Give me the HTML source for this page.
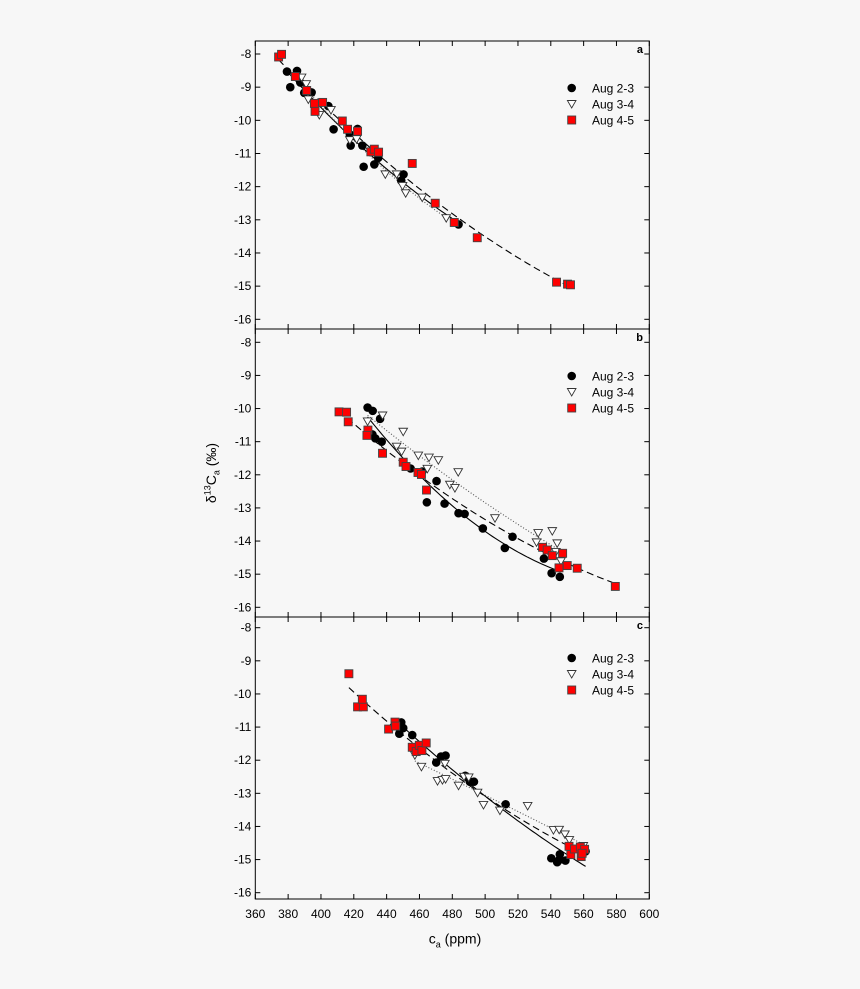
<!DOCTYPE html>
<html><head><meta charset="utf-8"><style>
html,body{margin:0;padding:0;background:#f7f7f7;}
svg{display:block;font-family:"Liberation Sans",Arial,sans-serif;}
</style></head><body>
<svg id="chart" width="860" height="989" viewBox="0 0 860 989" xmlns="http://www.w3.org/2000/svg"></svg>
<script>
const xTicks=[360,380,400,420,440,460,480,500,520,540,560,580,600];
const yTicks=[-8,-9,-10,-11,-12,-13,-14,-15,-16];
const seriesNames=["Aug 2-3","Aug 3-4","Aug 4-5"];
const panelLetters=["a","b","c"];
// Panel a
const a1x=[379.3,381.3,385.4,387.4,389.8,394.3,404.5,407.7,417.6,418.1,422.3,425.2,426,432.5,434.9,448.9,450.3,483.8];
const a1y=[-8.53,-9.0,-8.51,-8.86,-9.17,-9.16,-9.57,-10.27,-10.44,-10.76,-10.26,-10.76,-11.4,-11.33,-11.13,-11.82,-11.63,-13.14];
const a2x=[388.2,391,392.3,399,406.1,417.6,421.7,430.2,439.2,446.1,449.7,451.6,461.7,476.3];
const a2y=[-8.71,-8.91,-9.37,-9.84,-9.69,-10.6,-10.57,-10.95,-11.63,-11.63,-11.98,-12.2,-12.33,-12.95];
const a3x=[374.2,376,384.4,391.3,396,396.4,401,413,416.2,422.3,430.4,432.5,435.1,455.6,469.6,481.2,495.2,543.5,550.2,552];
const a3y=[-8.09,-8.01,-8.68,-9.1,-9.49,-9.73,-9.46,-10.02,-10.27,-10.33,-10.95,-10.87,-10.96,-11.3,-12.5,-13.08,-13.54,-14.88,-14.94,-14.96];
// Panel b
const b1x=[428.4,431.5,436,431.3,433.1,437,454.6,461.7,470.4,464.5,475.3,483.8,487.5,498.6,512,516.7,535.8,540.5,545.5];
const b1y=[-9.97,-10.07,-10.31,-10.78,-10.9,-11.0,-11.81,-11.9,-12.19,-12.83,-12.87,-13.16,-13.18,-13.62,-14.21,-13.87,-14.53,-14.97,-15.08];
const b2x=[428.4,437.5,450.1,446.1,449.1,459.3,465.8,471.5,464.8,483.6,478.5,481.6,506,532.3,531.3,540.9,543.9,543.1,546.2];
const b2y=[-10.39,-10.21,-10.7,-11.15,-11.3,-11.42,-11.48,-11.56,-11.82,-11.92,-12.3,-12.4,-13.31,-13.76,-14.04,-13.7,-14.07,-14.33,-14.61];
const b3x=[411,415.6,416.6,428.6,428,437.5,450.1,451.8,459.1,461.2,464.3,535,537.8,540.9,547.2,545,550,556.1,579.3];
const b3y=[-10.1,-10.11,-10.4,-10.65,-10.81,-11.35,-11.62,-11.75,-11.93,-11.99,-12.46,-14.19,-14.27,-14.44,-14.37,-14.81,-14.74,-14.82,-15.37];
// Panel c
const c1x=[448.9,450.1,447.7,455.6,470.2,473.1,475.9,487.9,490.7,493.2,512.5,540.3,543.9,545.5,545.1,548.9,561.2,558.9];
const c1y=[-10.86,-11.03,-11.2,-11.24,-12.07,-11.89,-11.86,-12.47,-12.65,-12.65,-13.33,-14.96,-15.08,-14.84,-15.01,-15.03,-14.75,-14.63];
const c2x=[457.2,461.2,471,474,475.9,475.5,483.8,487.1,490,495.4,499,509,525.9,541.6,545.1,548.6,551.3,559.8];
const c2y=[-11.85,-12.2,-12.63,-12.6,-12.57,-12.11,-12.77,-12.5,-12.52,-12.98,-13.35,-13.52,-13.38,-14.11,-14.1,-14.24,-14.41,-14.59];
const c3x=[417,422.3,425.8,425.2,441.2,445.1,445.5,455.6,458,459.9,461.5,464.1,551.1,552.2,554.4,558,558.5,560.6,559.1];
const c3y=[-9.39,-10.39,-10.39,-10.16,-11.06,-10.85,-10.97,-11.61,-11.74,-11.55,-11.71,-11.48,-14.6,-14.85,-14.68,-14.62,-14.91,-14.69,-14.81];

const panels=[
 {top:41,bottom:329,y8:54,y16:319.3,s:[[a1x,a1y],[a2x,a2y],[a3x,a3y]],leg:88},
 {top:329,bottom:617,y8:342.3,y16:607.3,s:[[b1x,b1y],[b2x,b2y],[b3x,b3y]],leg:376},
 {top:617,bottom:899,y8:627.7,y16:892.7,s:[[c1x,c1y],[c2x,c2y],[c3x,c3y]],leg:658}
];
const L=255.3,R=649.3;
const xs=v=>L+(v-360)*(R-L)/240;
const NS="http://www.w3.org/2000/svg";
const svg=document.getElementById('chart');
function mk(tag,attrs,parent){const e=document.createElementNS(NS,tag);for(const k in attrs)e.setAttribute(k,attrs[k]);(parent||svg).appendChild(e);return e;}
function fit(x,y){ // quadratic least squares
 let S=[0,0,0,0,0],T=[0,0,0];
 for(let i=0;i<x.length;i++){const u=x[i]-450;let p=1;for(let k=0;k<5;k++){S[k]+=p;if(k<3)T[k]+=p*y[i];p*=u;}}
 const A=[[S[0],S[1],S[2],T[0]],[S[1],S[2],S[3],T[1]],[S[2],S[3],S[4],T[2]]];
 for(let i=0;i<3;i++){for(let j=i+1;j<3;j++){const f=A[j][i]/A[i][i];for(let k=i;k<4;k++)A[j][k]-=f*A[i][k];}}
 const c=[0,0,0];for(let i=2;i>=0;i--){let s=A[i][3];for(let k=i+1;k<3;k++)s-=A[i][k]*c[k];c[i]=s/A[i][i];}
 return u=>c[0]+c[1]*(u-450)+c[2]*(u-450)*(u-450);
}
const dashes=["none","1,2","7,4"];
function marker(i,x,y,g){
 let e;
 if(i===0){e=mk('circle',{cx:x,cy:y,r:4.3,fill:'#000'},g);}
 else if(i===1){e=mk('path',{d:`M${x-4.3},${y-3.5}L${x+4.3},${y-3.5}L${x},${y+4}Z`,fill:'#fff',stroke:'#333','stroke-width':0.9},g);}
 else{e=mk('rect',{x:x-4,y:y-4,width:8,height:8,fill:'#f00',stroke:'#444','stroke-width':0.9},g);}
 
}
panels.forEach((p,pi)=>{
 const ys=v=>p.y8+(-8-v)*(p.y16-p.y8)/8;
 const g=mk('g',{});
 
 
 const fr=mk('rect',{x:L,y:p.top,width:R-L,height:p.bottom-p.top,fill:'none',stroke:'#000','stroke-width':1},g);
 
 xTicks.forEach(t=>{const x=xs(t);
  mk('line',{x1:x,x2:x,y1:p.top,y2:p.top+5,stroke:'#000','stroke-width':1},g);
  mk('line',{x1:x,x2:x,y1:p.bottom,y2:p.bottom-5,stroke:'#000','stroke-width':1},g);
  if(pi===2){const tl=mk('text',{x:x,y:918,'font-size':12,'text-anchor':'middle',fill:'#000'},g);tl.textContent=t;
   }
 });
 yTicks.forEach(t=>{const y=ys(t);
  mk('line',{x1:L,x2:L+5,y1:y,y2:y,stroke:'#000','stroke-width':1},g);
  mk('line',{x1:R,x2:R-5,y1:y,y2:y,stroke:'#000','stroke-width':1},g);
  const tl=mk('text',{x:L-4,y:y+4,'font-size':12,'text-anchor':'end',fill:'#000'},g);tl.textContent=t;
  
 });
 p.s.forEach((sr,si)=>{
  const f=fit(sr[0],sr[1]);const mn=Math.min(...sr[0]),mx=Math.max(...sr[0]);
  let d='';for(let k=0;k<=60;k++){const u=mn+(mx-mn)*k/60;d+=(k?'L':'M')+xs(u).toFixed(1)+','+ys(f(u)).toFixed(1);}
  const ln=mk('path',{d:d,fill:'none',stroke:si===1?'#555':'#000','stroke-width':1.1,'stroke-dasharray':dashes[si]},g);
  
  
 });
 p.s.forEach((sr,si)=>{sr[0].forEach((v,k)=>marker(si,xs(v),ys(sr[1][k]),g));});
 seriesNames.forEach((n,si)=>{
  const ly=p.leg+si*16;
  marker(si,571.7,ly,g);
  const t=mk('text',{x:592,y:ly+4.5,'font-size':12,fill:'#000'},g);t.textContent=n;
  
 });
 const lt=mk('text',{x:643,y:p.top+12,'font-size':11,'font-weight':'bold','text-anchor':'end',fill:'#000'},g);lt.textContent=panelLetters[pi];
 
});
</script>
<svg width="0" height="0" style="position:absolute"></svg>
<div style="position:absolute;left:0;top:0;width:860px;height:989px;pointer-events:none">
 <div style="position:absolute;left:212px;top:473px;transform:translate(-50%,-50%) rotate(-90deg);white-space:nowrap;font:14px 'Liberation Sans',sans-serif;">δ<sup style="font-size:9px">13</sup>C<sub style="font-size:9px">a</sub> (‰)</div>
 <div style="position:absolute;left:455px;top:940px;transform:translate(-50%,-50%);white-space:nowrap;font:14px 'Liberation Sans',sans-serif;">c<sub style="font-size:9px">a</sub> (ppm)</div>
</div>
</body></html>
